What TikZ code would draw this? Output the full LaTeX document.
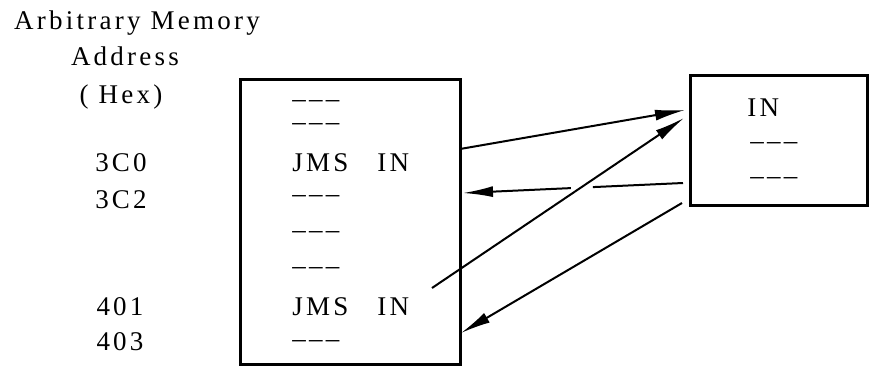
\documentclass[tikz,border=0pt]{standalone}
\usepackage{fontspec}
\setmainfont{Liberation Serif}[LetterSpace=12]
\usetikzlibrary{calc, arrows.meta}

\newcommand{\blank}{\textendash\textendash\textendash}

\begin{document}
\begin{tikzpicture}[x=0.5pt, y=-0.5pt, >={Latex[length=15pt, width=5.5pt]},
    font=\fontsize{13.5}{15}\selectfont,
    txt/.style={inner sep=0pt, anchor=base west},
    filler/.style={txt, text height=4pt, text depth=0pt},
    addr/.style={inner sep=0pt, anchor=base},
    box/.style={draw, line width=1.5pt, inner sep=0pt},
    link/.style={line width=1pt}]
  \useasboundingbox (0,0) rectangle (869,371);

  % address column
  \node[addr] (title1) at (137,29) {Arbitrary Memory};
  \node[addr] (title2) at (125,65) {Address};
  \node[addr] (title3) at (121,103) {( Hex)};
  \node[addr] (a3c0) at (121,171) {3C0};
  \node[addr] (a3c2) at (121,208) {3C2};
  \node[addr] (a401) at (120,315) {401};
  \node[addr] (a403) at (120,350) {403};

  % main program
  \node[box, minimum width=110pt, minimum height=142.5pt] (mem) at (350,221.5) {};
  \node[filler] (m1) at (292,107) {\blank};
  \node[filler] (m2) at (292,130) {\blank};
  \node[txt] (jms1) at (292,171) {JMS};
  \node[txt] (in1) at (377,171) {IN};
  \node[filler] (m3) at (292,202) {\blank};
  \node[filler] (m4) at (292,238) {\blank};
  \node[filler] (m5) at (292,274) {\blank};
  \node[txt] (jms2) at (292,315) {JMS};
  \node[txt] (in2) at (377,315) {IN};
  \node[filler] (m6) at (292,347) {\blank};

  % subroutine
  \node[box, minimum width=88.5pt, minimum height=65pt] (sub) at (778.5,140) {};
  \node[txt] (subin) at (747,116) {IN};
  \node[filler] (s1) at (750,149) {\blank};
  \node[filler] (s2) at (750,184) {\blank};

  % links
  \coordinate (call1) at (460,149);
  \coordinate (entry1) at (685,110);
  \coordinate (exit1) at (683,183);
  \coordinate (back1) at (463,193);
  \coordinate (call2) at (432,288);
  \coordinate (entry2) at (684,118);
  \coordinate (exit2) at (682,203);
  \coordinate (back2) at (461,333);

  \draw[link, ->] (call1) -- (entry1);
  \draw[link] (exit1) -- ($(exit1)!0.41!(back1)$);
  \draw[link, ->] ($(exit1)!0.51!(back1)$) -- (back1);
  \draw[link, ->] (call2) -- (entry2);
  \draw[link, ->] (exit2) -- (back2);
\end{tikzpicture}
\end{document}
